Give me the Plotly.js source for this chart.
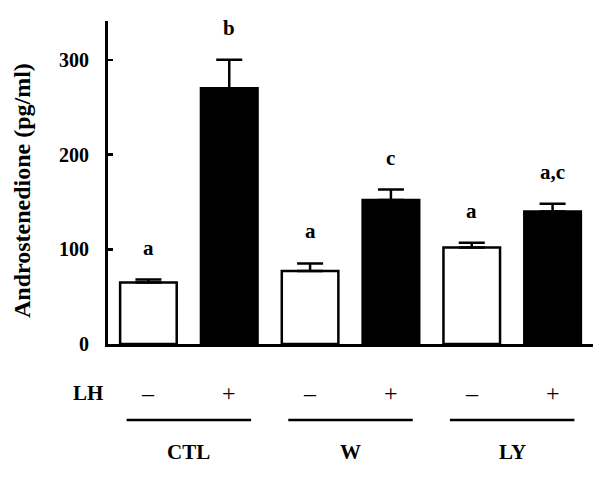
<!DOCTYPE html>
<html>
<head>
<meta charset="utf-8">
<script src="https://cdn.plot.ly/plotly-3.0.1.min.js"></script>
<style>html,body{margin:0;padding:0;background:#fff;}#chart{width:600px;height:487px;}</style>
</head>
<body>
<div id="chart"></div>
<script>
// Data
const groups = ['CTL', 'W', 'LY'];
const lhMinusLabel = '\u2013';
const lhPlusLabel = '+';
const meanMinus = [65, 77, 102];
const errMinus = [3, 8, 5];
const meanPlus = [270, 152, 140];
const errPlus = [30, 11, 8];
const lettersMinus = ['a', 'a', 'a'];
const lettersPlus = ['b', 'c', 'a,c'];
const yTicks = [0, 100, 200, 300];
const yTitle = 'Androstenedione (pg/ml)';

const FONT = 'Liberation Serif, Times New Roman, serif';
const xMinus = groups.map((g, i) => i * 2);
const xPlus = groups.map((g, i) => i * 2 + 1);

const traces = [
  {
    type: 'bar', x: xMinus, y: meanMinus, width: 0.7,
    marker: {color: '#ffffff', line: {color: '#000', width: 2.5}},
    error_y: {type: 'data', symmetric: false, array: errMinus, arrayminus: errMinus.map(() => 0),
              color: '#000', thickness: 2.5, width: 13},
    hoverinfo: 'none'
  },
  {
    type: 'bar', x: xPlus, y: meanPlus, width: 0.7,
    marker: {color: '#000000', line: {color: '#000', width: 2.5}},
    error_y: {type: 'data', symmetric: false, array: errPlus, arrayminus: errPlus.map(() => 0),
              color: '#000', thickness: 2.5, width: 13},
    hoverinfo: 'none'
  }
];

const annotations = [];
groups.forEach((g, i) => {
  annotations.push({x: xMinus[i], y: meanMinus[i] + errMinus[i], xref: 'x', yref: 'y', text: '<b>' + lettersMinus[i] + '</b>',
    showarrow: false, yanchor: 'bottom', yshift: 18, font: {family: FONT, size: 21, color: '#000'}});
  annotations.push({x: xPlus[i], y: meanPlus[i] + errPlus[i], xref: 'x', yref: 'y', text: '<b>' + lettersPlus[i] + '</b>',
    showarrow: false, yanchor: 'bottom', yshift: 18, font: {family: FONT, size: 21, color: '#000'}});
  annotations.push({x: xMinus[i], y: -0.152, xref: 'x', yref: 'paper', text: lhMinusLabel,
    showarrow: false, yanchor: 'middle', font: {family: FONT, size: 24, color: '#000'}});
  annotations.push({x: xPlus[i], y: -0.152, xref: 'x', yref: 'paper', text: lhPlusLabel,
    showarrow: false, yanchor: 'middle', font: {family: FONT, size: 24, color: '#000'}});
  annotations.push({x: (xMinus[i] + xPlus[i]) / 2, y: -0.334, xref: 'x', yref: 'paper', text: '<b>' + g + '</b>',
    showarrow: false, yanchor: 'middle', font: {family: FONT, size: 21, color: '#000'}});
});
annotations.push({x: -0.041, y: -0.152, xref: 'paper', yref: 'paper', text: '<b>LH</b>',
  showarrow: false, xanchor: 'center', yanchor: 'middle', font: {family: FONT, size: 21, color: '#000'}});
annotations.push({x: -0.177, y: 0.474, xref: 'paper', yref: 'paper', text: '<b>' + yTitle + '</b>', textangle: -90,
  showarrow: false, xanchor: 'center', yanchor: 'middle', font: {family: FONT, size: 24, color: '#000'}});

const shapes = groups.map((g, i) => ({
  type: 'line', xref: 'x', yref: 'paper', x0: xMinus[i] - 0.27, x1: xPlus[i] + 0.27, y0: -0.235, y1: -0.235,
  line: {color: '#000', width: 2.5}
}));

const layout = {
  width: 600, height: 487,
  margin: {l: 108, r: 7, t: 21, b: 143},
  paper_bgcolor: '#fff', plot_bgcolor: '#fff',
  showlegend: false,
  barmode: 'overlay',
  xaxis: {range: [-0.5, 5.5], showgrid: false, zeroline: false, showticklabels: false, ticks: '',
          showline: true, linecolor: '#000', linewidth: 3, fixedrange: true},
  yaxis: {range: [0, 341], tickvals: yTicks, ticktext: yTicks.map(v => '<b>' + v + '</b>'),
          ticks: 'inside', ticklen: 5, tickwidth: 2.5, tickcolor: '#000',
          showgrid: false, zeroline: false, showline: true, linecolor: '#000', linewidth: 3,
          ticklabelstandoff: 12,
          tickfont: {family: FONT, size: 20, color: '#000'},
          fixedrange: true},
  annotations: annotations,
  shapes: shapes
};

Plotly.newPlot('chart', traces, layout, {displayModeBar: false, staticPlot: true});
</script>
</body>
</html>
